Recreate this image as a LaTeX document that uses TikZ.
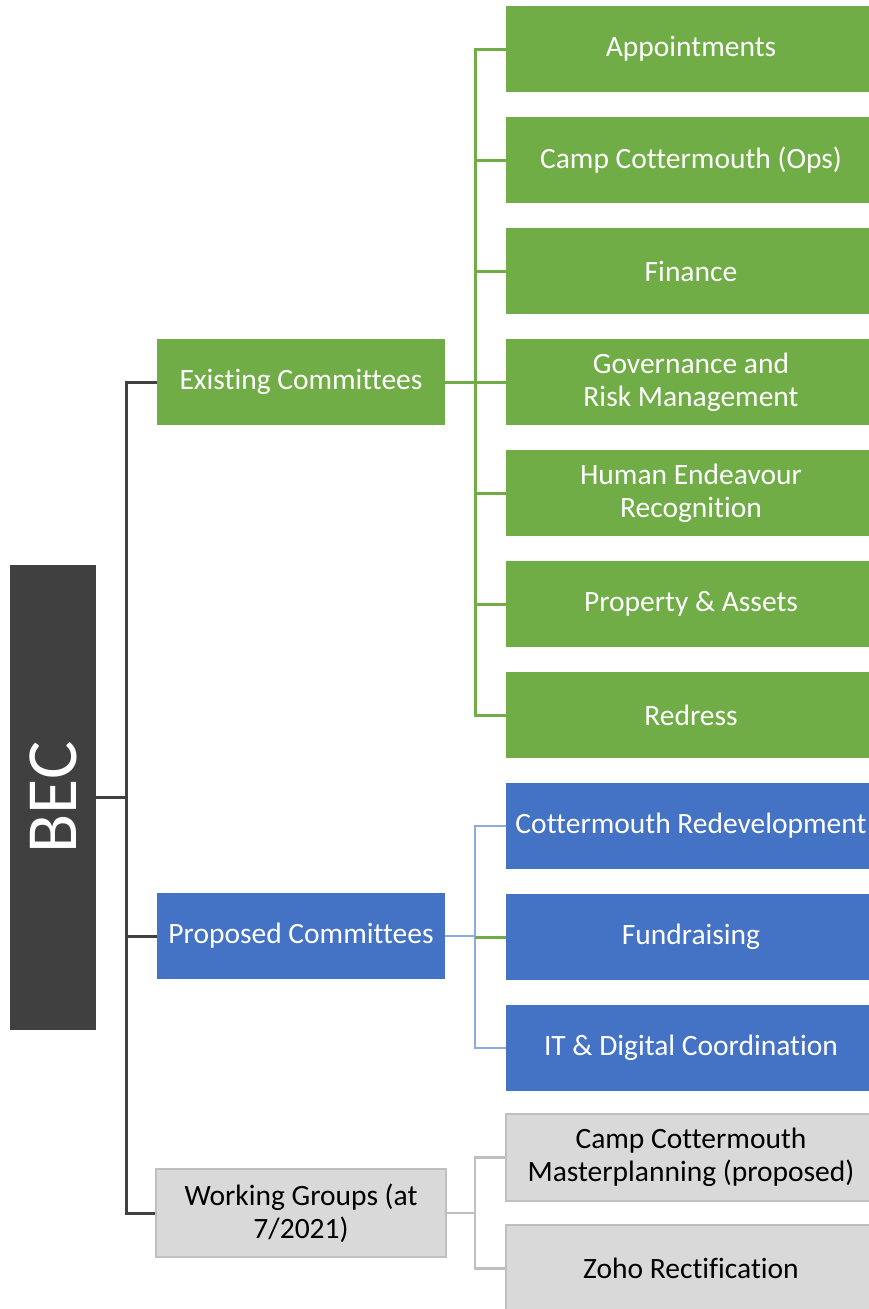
\documentclass[tikz,border=0pt]{standalone}
\usepackage{fontspec}
\setmainfont{Carlito}[Ligatures=NoCommon]
\definecolor{becgray}{HTML}{404040}
\definecolor{exgreen}{HTML}{70AD47}
\definecolor{prblue}{HTML}{4472C4}
\definecolor{prline}{HTML}{8FAADC}
\definecolor{wgfill}{HTML}{D9D9D9}
\definecolor{wgline}{HTML}{BFBFBF}
\begin{document}
\begin{tikzpicture}[x=1pt,y=-1pt,
  boxtext/.style={font=\fontsize{29.5}{33}\selectfont, align=center, inner sep=0pt},
  parentbox/.style={boxtext, rectangle, minimum width=288pt, minimum height=86pt},
  childbox/.style={boxtext, rectangle, minimum width=370pt, minimum height=86pt},
  greenbox/.style={fill=exgreen, text=white},
  bluebox/.style={fill=prblue, text=white},
  graybox/.style={fill=wgfill, draw=wgline, line width=2pt, text=black},
  rootlink/.style={draw=becgray, line width=3pt},
  greenlink/.style={draw=exgreen, line width=3pt},
  bluelink/.style={draw=prline, line width=2.5pt},
  graylink/.style={draw=wgline, line width=2.5pt}]
\clip (0,0) rectangle (869,1309);
\useasboundingbox (0,0) rectangle (869,1309);

% root
\node[fill=becgray, minimum width=86pt, minimum height=465pt, inner sep=0pt] (bec) at (53,797.5) {};
\node[text=white, rotate=90, font=\fontsize{72}{80}\selectfont, inner sep=0pt] (bectext) at (bec.center) {BEC};

% second level
\node[parentbox, greenbox] (ex) at (301,382) {Existing Committees};
\node[parentbox, bluebox] (pc) at (301,936) {Proposed Committees};
\node[parentbox, graybox, minimum width=290pt, minimum height=88pt] (wg) at (301,1213) {Working Groups (at\\7/2021)};

% existing committees
\node[childbox, greenbox] (c1) at (691,49) {Appointments};
\node[childbox, greenbox] (c2) at (691,160) {Camp Cottermouth (Ops)};
\node[childbox, greenbox] (c3) at (691,271) {Finance};
\node[childbox, greenbox] (c4) at (691,382) {Governance and\\Risk Management};
\node[childbox, greenbox] (c5) at (691,493) {Human Endeavour\\Recognition};
\node[childbox, greenbox] (c6) at (691,604) {Property \& Assets};
\node[childbox, greenbox] (c7) at (691,715) {Redress};

% proposed committees
\node[childbox, bluebox] (p1) at (691,826) {Cottermouth Redevelopment};
\node[childbox, bluebox] (p2) at (691,937) {Fundraising};
\node[childbox, bluebox] (p3) at (691,1048) {IT \& Digital Coordination};

% working groups
\node[childbox, graybox, minimum height=87pt] (w1) at (691,1157.5) {Camp Cottermouth\\Masterplanning (proposed)};
\node[childbox, graybox, minimum height=87pt] (w2) at (691,1268.5) {Zoho Rectification};

% trunks
\coordinate (rt) at (126,797);
\coordinate (gt) at (475,382);

% root connectors
\draw[rootlink] (bec.east |- rt) -- (rt);
\draw[rootlink] (ex.west) -- (ex.west -| rt) -- (wg.west -| rt) -- (wg.west);
\draw[rootlink] (pc.west) -- (pc.west -| rt);

% existing committees connectors
\draw[greenlink] (ex.east) -- (ex.east -| gt);
\draw[greenlink] (c1.west) -- (c1.west -| gt) -- (c7.west -| gt) -- (c7.west);
\foreach \c in {c2,c3,c4,c5,c6}
  \draw[greenlink] (\c.west -| gt) -- (\c.west);

% proposed committees connectors
\draw[bluelink] (pc.east) -- (pc.east -| gt);
\draw[bluelink] (p1.west) -- (p1.west -| gt) -- (p3.west -| gt) -- (p3.west);
\draw[greenlink] (p2.west -| gt) -- (p2.west);

% working group connectors
\draw[graylink] (wg.east) -- (wg.east -| gt);
\draw[graylink] (w1.west) -- (w1.west -| gt) -- (w2.west -| gt) -- (w2.west);
\end{tikzpicture}
\end{document}
